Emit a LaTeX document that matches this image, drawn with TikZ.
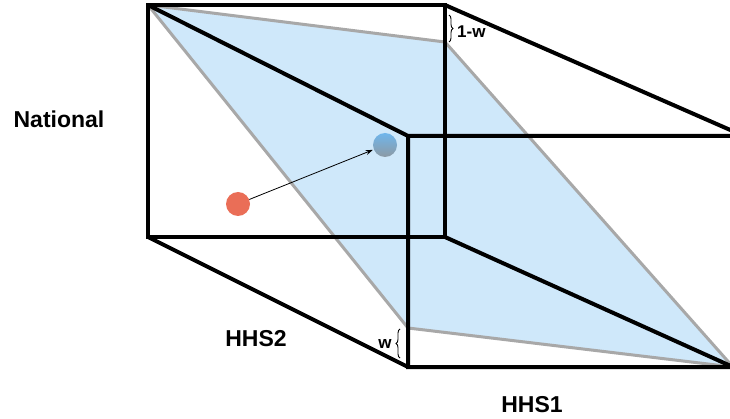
\documentclass[tikz,border=0pt]{standalone}
\usepackage{fontspec}
\setmainfont{Liberation Sans}
\usetikzlibrary{arrows.meta,decorations.pathreplacing}
\definecolor{planeblue}{HTML}{CFE8FA}
\definecolor{planegray}{HTML}{A8A8A8}
\definecolor{dotred}{HTML}{EA6E57}
\definecolor{dottop}{HTML}{6FB6EC}
\definecolor{dotbot}{HTML}{8D9AA4}
\tikzset{
  edge/.style={line width=4pt, line join=miter, line cap=butt},
  planeline/.style={line width=3pt, draw=planegray},
  lbl/.style={font=\fontsize{23}{25}\selectfont\bfseries, anchor=base, inner sep=0pt},
  small/.style={font=\fontsize{17}{19}\selectfont\bfseries, anchor=base, inner sep=0pt},
  bracedec/.style={decorate, decoration={brace, amplitude=4pt}, line width=0.9pt},
}
\begin{document}
\begin{tikzpicture}[x=1pt,y=-1pt]
\useasboundingbox (0,0) rectangle (730,419);
\clip (0,0) rectangle (730,419);
% cube vertices
\coordinate (A) at (148,5);
\coordinate (B) at (445,5);
\coordinate (C) at (445,237);
\coordinate (D) at (148,237);
\coordinate (E) at (408,136);
\coordinate (F) at (744,136);
\coordinate (G) at (733,367);
\coordinate (H) at (408,367);
% plane corners
\coordinate (P1) at (148,5);
\coordinate (P2) at (445,42);
\coordinate (P3) at (733,367);
\coordinate (P4) at (408,328);
% plane
\fill[planeblue] (P1) -- (P2) -- (P3) -- (P4) -- cycle;
\draw[planeline, line join=round] (P1) -- (P2) -- (P3) -- (P4) -- cycle;
% cube edges
\draw[edge] (A) -- (B) -- (C) -- (D) -- cycle;
\draw[edge] (E) -- (F) -- (G) -- (H) -- cycle;
\draw[edge] (A) -- (E);
\draw[edge] (B) -- (F);
\draw[edge] (C) -- (G);
\draw[edge] (D) -- (H);
% dots and arrow
\node[circle, fill=dotred, minimum size=24pt, inner sep=0pt] (red) at (238,204) {};
\shade[top color=dottop, bottom color=dotbot] (385,145) circle (12pt);
\node[circle, minimum size=24pt, inner sep=0pt] (blue) at (385,145) {};
\draw[line width=0.8pt, -{Stealth[length=7pt,width=5pt]}, shorten >=1pt] (red) -- (blue);
% braces
\draw[bracedec] (449,15) -- (449,42);
\draw[bracedec] (400,358) -- (400,329);
% labels
\node[lbl] (national) at (59,128) {National};
\node[lbl] (hhs2) at (256,346) {HHS2};
\node[lbl] (hhs1) at (532,412) {HHS1};
\node[small, anchor=base west] (onew) at (457,38) {1-w};
\node[small] (w) at (385,348) {w};
\end{tikzpicture}
\end{document}
